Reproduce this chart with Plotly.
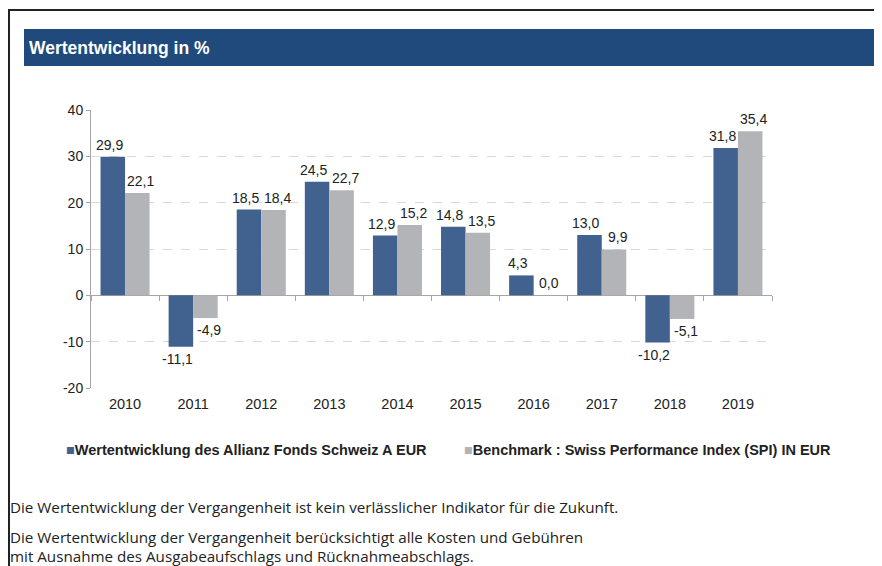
import plotly.graph_objects as go

years = ["2010", "2011", "2012", "2013", "2014", "2015", "2016", "2017", "2018", "2019"]
fund = [29.9, -11.1, 18.5, 24.5, 12.9, 14.8, 4.3, 13.0, -10.2, 31.8]
bench = [22.1, -4.9, 18.4, 22.7, 15.2, 13.5, 0.0, 9.9, -5.1, 35.4]
fund_name = "Wertentwicklung des Allianz Fonds Schweiz A EUR"
bench_name = "Benchmark : Swiss Performance Index (SPI) IN EUR"
title = "Wertentwicklung in %"
y_ticks = [-20, -10, 0, 10, 20, 30, 40]
y_ticktext = ["-20", "-10", "0", "10", "20", "30", "40"]
footer = [
    "Die Wertentwicklung der Vergangenheit ist kein verlässlicher Indikator für die Zukunft.",
    "Die Wertentwicklung der Vergangenheit berücksichtigt alle Kosten und Gebühren",
    "mit Ausnahme des Ausgabeaufschlags und Rücknahmeabschlags.",
]

# window coordinates (page has an 8px body margin)
OFF = 8
WIN_W, WIN_H = 882, 566
L, R, T, B = 91, 772, 110, 388
pw, ph = R - L, B - T
BARGAP = 0.28


def px(x):
    return (x - L) / pw


def py(y):
    return (B - y) / ph


def fmt(v):
    return f"{v:.1f}".replace(".", ",")


FONT = "Arial, Liberation Sans, sans-serif"
lab_font = dict(family=FONT, size=14, color="#222222")

fig = go.Figure()
fig.add_trace(go.Bar(x=years, y=fund, name=fund_name, marker=dict(color="#41628F", line=dict(width=0)),
                     showlegend=False))
fig.add_trace(go.Bar(x=years, y=bench, name=bench_name, marker=dict(color="#B3B4B8", line=dict(width=0)),
                     showlegend=False))

shapes = [
    dict(type="rect", xref="paper", yref="paper", x0=px(24), x1=px(880), y0=py(66), y1=py(29),
         fillcolor="#204A7B", line=dict(width=0), layer="below"),
    dict(type="line", xref="paper", yref="paper", x0=px(9), x1=px(9), y0=py(10), y1=py(580),
         line=dict(color="#222222", width=2)),
    dict(type="line", xref="paper", yref="paper", x0=px(8), x1=px(890), y0=py(10), y1=py(10),
         line=dict(color="#222222", width=2)),
]

annotations = [
    dict(text="<b>" + title + "</b>", xref="paper", yref="paper", x=px(27), y=py(48),
         xanchor="left", yanchor="middle", showarrow=False,
         font=dict(family=FONT, size=17.5, color="white")),
    dict(text="<span style='color:#41628F'>■</span><b>" + fund_name + "</b>", xref="paper", yref="paper",
         x=px(64), y=py(450), xanchor="left", yanchor="middle", showarrow=False,
         font=dict(family=FONT, size=14.5, color="#222222")),
    dict(text="<span style='color:#B3B4B8'>■</span><b>" + bench_name + "</b>", xref="paper", yref="paper",
         x=px(462), y=py(450), xanchor="left", yanchor="middle", showarrow=False,
         font=dict(family=FONT, size=14.5, color="#222222")),
]

# value labels attached to the bars (category index on the x axis, shifted to each bar's centre)
cat_w = pw / len(years)
bar_off = cat_w * (1 - BARGAP) / 4
for series, sign in ((fund, -1), (bench, 1)):
    for i, v in enumerate(series):
        annotations.append(dict(text=fmt(v), xref="x", yref="y", x=i, y=v,
                                xshift=sign * (bar_off + 3.5), yshift=2 if v >= 0 else -2,
                                xanchor="center", yanchor="bottom" if v >= 0 else "top",
                                showarrow=False, font=lab_font))

foot_y = [507, 537, 556]
for t, yy in zip(footer, foot_y):
    annotations.append(dict(text=t, xref="paper", yref="paper", x=px(8), y=py(yy),
                            xanchor="left", yanchor="middle", showarrow=False,
                            font=dict(family="Open Sans, sans-serif", size=15.2, color="#222222")))

fig.update_layout(
    width=WIN_W - OFF, height=WIN_H - OFF,
    margin=dict(l=L - OFF, r=WIN_W - R, t=T - OFF, b=WIN_H - B, pad=0),
    paper_bgcolor="white", plot_bgcolor="white",
    barmode="group", bargap=BARGAP, bargroupgap=0,
    showlegend=False,
    shapes=shapes, annotations=annotations,
    font=dict(family=FONT, size=14, color="#222222"),
    xaxis=dict(type="category", categoryorder="array", categoryarray=years,
               range=[-0.5, len(years) - 0.5],
               showline=False, showgrid=False, ticks="",
               tickfont=dict(family=FONT, size=14.5, color="#222222"), ticklabelstandoff=5),
    xaxis2=dict(type="category", matches="x", overlaying="x", anchor="free",
                position=(0 - y_ticks[0]) / (y_ticks[-1] - y_ticks[0]),
                showline=False, ticks="outside", ticklen=5, tickcolor="#A6A6A6", tickson="boundaries",
                showticklabels=False, showgrid=False, zeroline=False),
)
fig.add_trace(go.Bar(x=years, y=[None] * len(years), xaxis="x2", showlegend=False, hoverinfo="skip"))
fig.update_yaxes(range=[y_ticks[0], y_ticks[-1]], tickvals=y_ticks, ticktext=y_ticktext,
                 showgrid=True, gridcolor="#D9D9D9", griddash="dash", gridwidth=1,
                 zeroline=True, zerolinecolor="#A6A6A6", zerolinewidth=1,
                 showline=True, linecolor="#A6A6A6", ticks="outside", ticklen=4, tickcolor="#A6A6A6",
                 tickfont=dict(family=FONT, size=14, color="#222222"))

fig.write_html("out.html")
